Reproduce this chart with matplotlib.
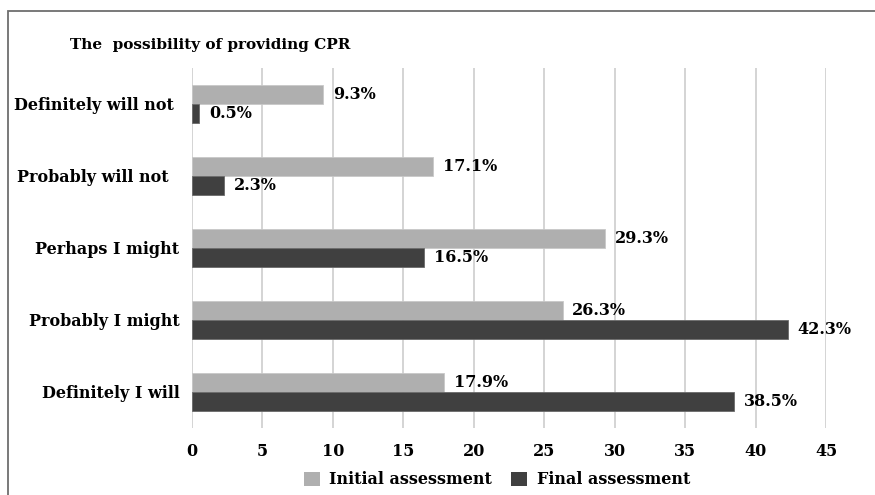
import matplotlib
matplotlib.use("Agg")
import matplotlib.pyplot as plt
from matplotlib.patches import Rectangle, Patch
import numpy as np

categories = ["Definitely will not ", "Probably will not  ", "Perhaps I might", "Probably I might", "Definitely I will"]
initial = [9.3, 17.1, 29.3, 26.3, 17.9]
final = [0.5, 2.3, 16.5, 42.3, 38.5]
xticks = [0, 5, 10, 15, 20, 25, 30, 35, 40, 45]
series_names = ["Initial assessment", "Final assessment"]
title = "The  possibility of providing CPR"

c_init = "#afafaf"
c_final = "#404040"
font = "DejaVu Serif"

W, H = 875, 495
fig = plt.figure(figsize=(W / 100, H / 100), dpi=100)
fig.patches.append(Rectangle((8 / W, -0.05), 1.0, 1 - 10.5 / H + 0.05, transform=fig.transFigure,
                             fill=False, edgecolor="#6e6e6e", linewidth=1.3))

ax = fig.add_axes([192 / W, 1 - 428 / H, (826 - 192) / W, (428 - 68) / H])
y = np.arange(len(categories))
h = 0.265
ax.barh(y - h / 2, initial, height=h, color=c_init, edgecolor="#c8c8c8", linewidth=0.6, zorder=3)
ax.barh(y + h / 2, final, height=h, color=c_final, edgecolor="#6a6a6a", linewidth=0.6, zorder=3)

for yi, v in zip(y, initial):
    ax.annotate(f"{v}%", (v, yi - h / 2), xytext=(7, 0), textcoords="offset points",
                va="center", ha="left", fontsize=11.5, fontweight="bold", family=font)
for yi, v in zip(y, final):
    ax.annotate(f"{v}%", (v, yi + h / 2), xytext=(7, 0), textcoords="offset points",
                va="center", ha="left", fontsize=11.5, fontweight="bold", family=font)

ax.set_xlim(0, 45)
ax.set_ylim(4.5, -0.5)
ax.set_xticks(xticks)
ax.set_xticklabels([str(t) for t in xticks], fontsize=11.5, fontweight="bold", family=font)
ax.set_yticks(y)
ax.set_yticklabels(categories, fontsize=11.5, fontweight="bold", family=font)
ax.tick_params(axis="both", length=0)
ax.tick_params(axis="x", pad=11)
ax.tick_params(axis="y", pad=9)
ax.grid(axis="x", color="#d4d4d4", linewidth=1.4, zorder=0)
ax.set_axisbelow(True)
for s in ax.spines.values():
    s.set_visible(False)

fig.text(70 / W, 1 - 45 / H, title, fontsize=11, fontweight="bold", family=font, va="center", ha="left")

handles = [Patch(facecolor=c_init), Patch(facecolor=c_final)]
fig.legend(handles, series_names, loc="center", bbox_to_anchor=(497 / W, 1 - 480 / H), ncol=2,
           frameon=False, prop={"family": font, "weight": "bold", "size": 11.5},
           handlelength=1.0, handleheight=1.0, columnspacing=1.2, handletextpad=0.6)

fig.savefig("out.png", dpi=100)
